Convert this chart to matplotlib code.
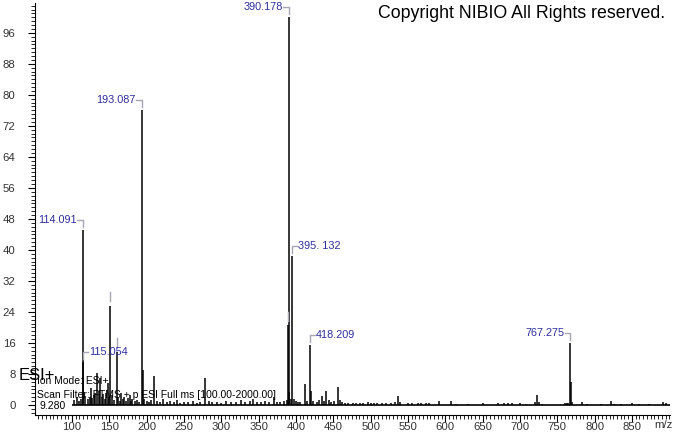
import matplotlib.pyplot as plt
import numpy as np
from matplotlib.ticker import MultipleLocator

plt.rcParams['font.family'] = ['Liberation Sans', 'DejaVu Sans']

# labelled peaks (m/z, relative intensity)
label_mz = [114.091, 115.054, 193.087, 390.178, 395.132, 418.209, 767.275]
label_int = [45.2, 11.0, 76.0, 100.0, 38.5, 15.5, 16.0]
label_side = ['left', 'right', 'left', 'left', 'right', 'right', 'left']
label_text = ['114.091', '115.054', '193.087', '390.178', '395. 132', '418.209', '767.275']

# peaks with hidden labels (only a grey marker above)
hidden_mz = [151.5, 159.6, 389.6]
hidden_int = [25.5, 13.7, 20.5]

# minor peaks
minor_mz = [103, 106, 109, 112, 118, 121, 124, 125.5, 127, 129, 131, 133.5, 136, 137.5,
            140, 142, 144, 146, 148, 150, 154, 156, 162, 164, 166, 168, 170, 172, 175,
            177, 179, 181, 184, 187, 190, 194.5, 197, 200, 203, 206, 210, 214, 218, 222,
            227, 231, 236, 241, 245, 250, 256, 262, 267, 272, 278.5, 283, 288, 294, 300,
            306, 313, 319, 326, 332, 338, 343, 348, 353, 358, 364, 370, 374, 379, 384,
            388, 391, 393, 397, 400, 403, 406, 412.5, 415, 420, 423, 428, 431, 435, 438,
            440.6, 444, 447, 451, 456.5, 459, 462, 466, 470, 476, 481, 486, 490, 496,
            500, 504, 509, 515, 520, 527, 533, 536.5, 539, 550, 556, 563, 568, 574, 578,
            592, 608, 615, 630, 650, 670, 678, 684, 690, 700, 708, 720, 722.5, 726, 730,
            760, 763, 765, 768.2, 770, 783, 790, 808, 822, 826, 835, 850, 860, 873, 891, 895]
minor_int = [1.2, 2.0, 1.0, 1.5, 2.2, 1.4, 2.0, 4.4, 1.8, 2.5, 3.0, 8.3, 3.5, 7.0,
             2.0, 2.8, 1.5, 3.0, 5.7, 2.0, 2.5, 1.2, 2.0, 1.0, 3.0, 1.5, 2.0, 1.0, 1.8,
             2.5, 1.0, 1.5, 1.0, 1.2, 0.8, 9.0, 1.5, 1.0, 0.8, 1.2, 7.5, 1.0, 0.8, 1.5,
             0.8, 1.0, 0.7, 1.2, 0.6, 0.8, 0.7, 1.0, 0.6, 0.8, 7.0, 1.0, 0.7, 0.8, 0.6,
             1.0, 0.7, 0.8, 1.2, 0.7, 0.9, 1.5, 0.8, 0.7, 1.0, 0.8, 2.0, 0.7, 0.8, 1.0,
             1.2, 3.4, 1.5, 1.5, 1.0, 0.8, 0.7, 5.4, 1.0, 3.6, 1.0, 0.8, 1.2, 2.4, 1.0,
             3.6, 1.2, 0.8, 1.0, 4.6, 1.2, 0.8, 0.6, 0.5, 0.6, 0.5, 0.6, 0.5, 0.8,
             0.6, 0.5, 0.6, 0.5, 0.6, 0.5, 0.8, 2.3, 0.8, 0.5, 0.4, 0.5, 0.4, 0.4, 0.5,
             0.9, 0.9, 0.3, 0.3, 0.4, 0.4, 0.5, 0.4, 0.5, 0.4, 0.3, 0.8, 2.5, 0.8, 0.3,
             0.4, 0.5, 0.5, 6.0, 0.8, 0.8, 0.3, 0.3, 1.0, 0.3, 0.3, 0.5, 0.3, 0.3, 0.8, 0.5]

x_range = (50.4, 901)
y_range = (-2.6, 103.7)
scan_start = 100

label_color = '#2e2e9c'
mark_color = '#a8a8b4'

fig = plt.figure(figsize=(6.73, 4.33), dpi=100)
ax = fig.add_axes([35 / 673, 18 / 433, 635 / 673, 412 / 433])

ax.hlines(0, scan_start, x_range[1], color='black', lw=1.2)
ax.vlines(minor_mz, 0, minor_int, color='black', lw=1.1)
ax.vlines(hidden_mz, 0, hidden_int, color='black', lw=1.1)
ax.vlines(label_mz, 0, label_int, color='black', lw=1.1)

# grey markers for hidden labels
for mz, h in zip(hidden_mz, hidden_int):
    ax.plot([mz, mz], [h + 1.2, h + 3.6], color=mark_color, lw=1)

# labels with brackets
for mz, h, side, txt in zip(label_mz, label_int, label_side, label_text):
    top = h + 2.6
    if side == 'left':
        ax.plot([mz - 7, mz, mz], [top, top, h + 0.8], color=mark_color, lw=1)
        ax.text(mz - 8, top, txt, color=label_color, fontsize=7.8,
                ha='right', va='center')
    else:
        ax.plot([mz, mz, mz + 7], [h + 0.8, top, top], color=mark_color, lw=1)
        ax.text(mz + 8, top, txt, color=label_color, fontsize=7.8,
                ha='left', va='center')

ax.set_xlim(*x_range)
ax.set_ylim(*y_range)

ax.set_xticks(np.arange(100, 851, 50))
ax.xaxis.set_minor_locator(MultipleLocator(5))
ax.set_yticks(np.arange(0, 97, 8))
ax.yaxis.set_minor_locator(MultipleLocator(1))

for s in ['top', 'right']:
    ax.spines[s].set_visible(False)
for s in ['left', 'bottom']:
    ax.spines[s].set_linewidth(0.8)

ax.tick_params(which='major', length=5, width=0.8, labelsize=8.2,
               labelcolor='#333333', direction='out')
ax.tick_params(which='minor', length=3, width=0.6, direction='out')
ax.tick_params(axis='y', pad=9)
ax.tick_params(axis='x', pad=0.3)

fig.text(663 / 673, 1 - 425 / 433, 'm/z', fontsize=8.2, color='#333333',
         ha='center', va='center')

fig.text(665 / 673, 1 - 14 / 433, 'Copyright NIBIO All Rights reserved.',
         fontsize=12.8, ha='right', va='center')

fig.text(19 / 673, 1 - 375 / 433, 'ESI+', fontsize=12, ha='left', va='center')
fig.text(37 / 673, 1 - 381 / 433, 'Ion Mode: ESI+', fontsize=7.5, ha='left', va='center')
fig.text(37 / 673, 1 - 395 / 433, 'Scan Filter: FTMS + p ESI Full ms [100.00-2000.00]',
         fontsize=7.5, ha='left', va='center')
fig.text(39 / 673, 1 - 406 / 433, '9.280', fontsize=7.5, ha='left', va='center')

fig.savefig('out.png', dpi=100)
